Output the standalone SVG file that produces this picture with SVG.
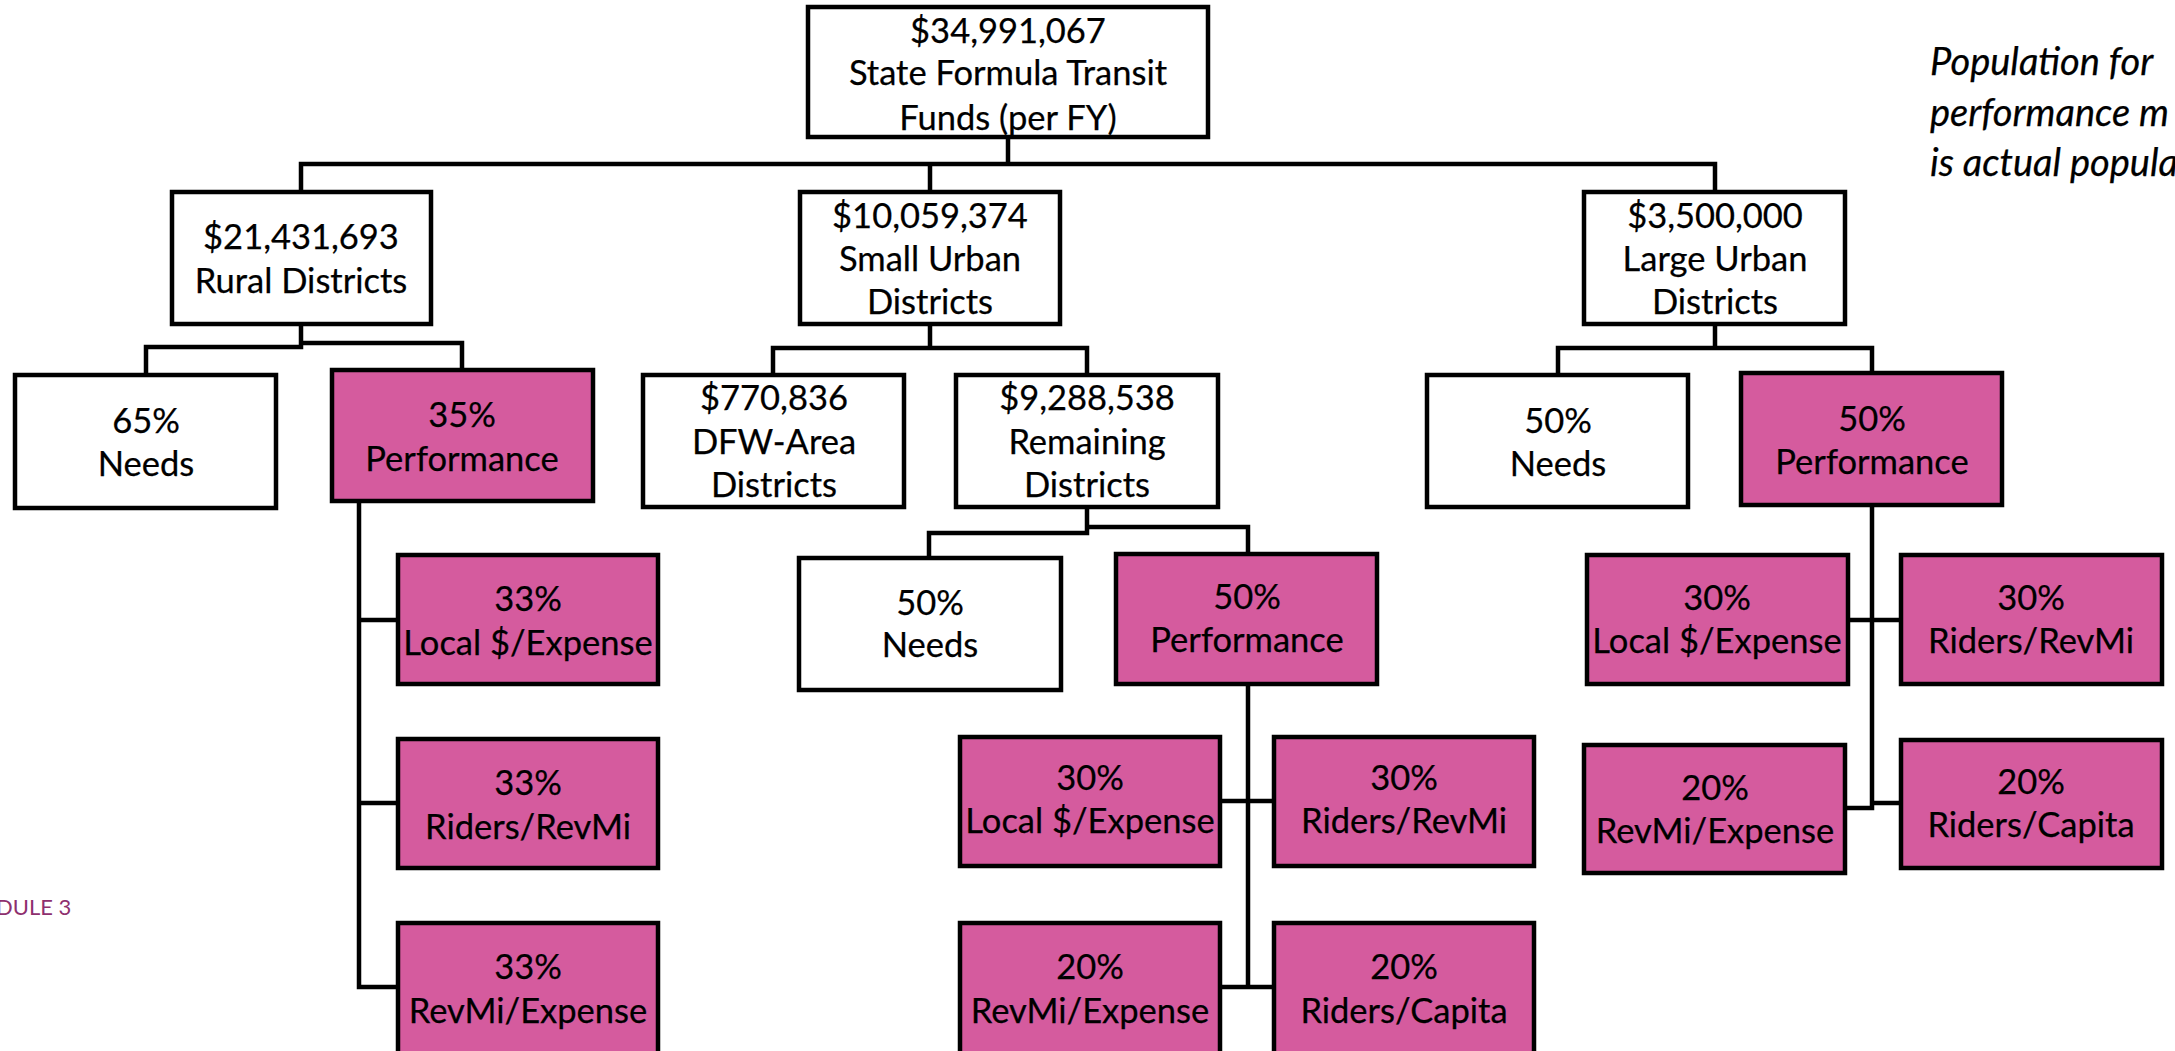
<svg xmlns="http://www.w3.org/2000/svg" width="2175" height="1051" viewBox="0 0 2175 1051">
<style>
.bw{fill:#ffffff;stroke:#000;stroke-width:4.5}
.bp{fill:#D55B9E;stroke:#000;stroke-width:4.5}
.t{font-family:Lato,"Open Sans","Liberation Sans",sans-serif;font-size:34.5px;fill:#000;stroke:#000;stroke-width:0.25;text-anchor:middle}
.c{fill:none;stroke:#000;stroke-width:4.5;stroke-linejoin:miter;stroke-linecap:square}
.note{font-family:Lato,"Open Sans","Liberation Sans",sans-serif;font-size:38px;font-style:italic;fill:#000;stroke:#000;stroke-width:0.25}
.mod{font-family:Lato,"Open Sans","Liberation Sans",sans-serif;font-size:22px;fill:#8E2F6E}
</style>
<rect width="2175" height="1051" fill="#ffffff"/>
<g id="connectors">
<path class="c" d="M1008 137V164M301 164H1715M301 164V192M930 164V192M1715 164V192"/>
<path class="c" d="M301 324V347H146V375M301 343H462V370"/>
<path class="c" d="M930 324V348M773 348H1087M773 348V375M1087 348V375"/>
<path class="c" d="M1715 324V348M1558 348H1872M1558 348V375M1872 348V373"/>
<path class="c" d="M1087 507V533H929V558M1087 527H1248V554"/>
<path class="c" d="M359 501V987H398M359 620H398M359 803H398"/>
<path class="c" d="M1248 684V987M1220 801H1274M1220 987H1274"/>
<path class="c" d="M1872 505V808H1845M1848 620H1901M1872 803H1901"/>
</g>
<g id="n-top"><rect class="bw" x="808" y="7" width="400" height="130"/>
<text class="t" x="1008" y="43">$34,991,067</text><text class="t" x="1008" y="85">State Formula Transit</text><text class="t" x="1008" y="130">Funds (per FY)</text></g>
<g id="n-rural"><rect class="bw" x="172" y="192" width="259" height="132"/>
<text class="t" x="301" y="249">$21,431,693</text><text class="t" x="301" y="293">Rural Districts</text></g>
<g id="n-small"><rect class="bw" x="800" y="192" width="260" height="132"/>
<text class="t" x="930" y="228">$10,059,374</text><text class="t" x="930" y="271">Small Urban</text><text class="t" x="930" y="314">Districts</text></g>
<g id="n-large"><rect class="bw" x="1584" y="192" width="261" height="132"/>
<text class="t" x="1715" y="228">$3,500,000</text><text class="t" x="1715" y="271">Large Urban</text><text class="t" x="1715" y="314">Districts</text></g>
<g id="n-rural-needs"><rect class="bw" x="15" y="375" width="261" height="133"/>
<text class="t" x="146" y="433">65%</text><text class="t" x="146" y="476">Needs</text></g>
<g id="n-rural-perf"><rect class="bp" x="332" y="370" width="261" height="131"/>
<text class="t" x="462" y="427">35%</text><text class="t" x="462" y="471">Performance</text></g>
<g id="n-dfw"><rect class="bw" x="643" y="375" width="261" height="132"/>
<text class="t" x="774" y="410">$770,836</text><text class="t" x="774" y="454">DFW-Area</text><text class="t" x="774" y="497">Districts</text></g>
<g id="n-remaining"><rect class="bw" x="956" y="375" width="262" height="132"/>
<text class="t" x="1087" y="410">$9,288,538</text><text class="t" x="1087" y="454">Remaining</text><text class="t" x="1087" y="497">Districts</text></g>
<g id="n-large-needs"><rect class="bw" x="1427" y="375" width="261" height="132"/>
<text class="t" x="1558" y="433">50%</text><text class="t" x="1558" y="476">Needs</text></g>
<g id="n-large-perf"><rect class="bp" x="1741" y="373" width="261" height="132"/>
<text class="t" x="1872" y="431">50%</text><text class="t" x="1872" y="474">Performance</text></g>
<g id="n-small-needs"><rect class="bw" x="799" y="558" width="262" height="132"/>
<text class="t" x="930" y="615">50%</text><text class="t" x="930" y="657">Needs</text></g>
<g id="n-small-perf"><rect class="bp" x="1116" y="554" width="261" height="130"/>
<text class="t" x="1247" y="609">50%</text><text class="t" x="1247" y="652">Performance</text></g>
<g id="n-r1"><rect class="bp" x="398" y="555" width="260" height="129"/>
<text class="t" x="528" y="611">33%</text><text class="t" x="528" y="655">Local $/Expense</text></g>
<g id="n-r2"><rect class="bp" x="398" y="739" width="260" height="129"/>
<text class="t" x="528" y="795">33%</text><text class="t" x="528" y="839">Riders/RevMi</text></g>
<g id="n-r3"><rect class="bp" x="398" y="923" width="260" height="132"/>
<text class="t" x="528" y="979">33%</text><text class="t" x="528" y="1023">RevMi/Expense</text></g>
<g id="n-s1"><rect class="bp" x="960" y="737" width="260" height="129"/>
<text class="t" x="1090" y="790">30%</text><text class="t" x="1090" y="833">Local $/Expense</text></g>
<g id="n-s2"><rect class="bp" x="1274" y="737" width="260" height="129"/>
<text class="t" x="1404" y="790">30%</text><text class="t" x="1404" y="833">Riders/RevMi</text></g>
<g id="n-s3"><rect class="bp" x="960" y="923" width="260" height="132"/>
<text class="t" x="1090" y="979">20%</text><text class="t" x="1090" y="1023">RevMi/Expense</text></g>
<g id="n-s4"><rect class="bp" x="1274" y="923" width="260" height="132"/>
<text class="t" x="1404" y="979">20%</text><text class="t" x="1404" y="1023">Riders/Capita</text></g>
<g id="n-l1"><rect class="bp" x="1587" y="555" width="261" height="129"/>
<text class="t" x="1717" y="610">30%</text><text class="t" x="1717" y="653">Local $/Expense</text></g>
<g id="n-l2"><rect class="bp" x="1901" y="555" width="261" height="129"/>
<text class="t" x="2031" y="610">30%</text><text class="t" x="2031" y="653">Riders/RevMi</text></g>
<g id="n-l3"><rect class="bp" x="1584" y="745" width="261" height="128"/>
<text class="t" x="1715" y="800">20%</text><text class="t" x="1715" y="843">RevMi/Expense</text></g>
<g id="n-l4"><rect class="bp" x="1901" y="740" width="261" height="128"/>
<text class="t" x="2031" y="794">20%</text><text class="t" x="2031" y="837">Riders/Capita</text></g>
<g id="note">
<text class="note" x="1930" y="75">Population for</text>
<text class="note" x="1930" y="126">performance m</text>
<text class="note" x="1930" y="176">is actual popula</text>
</g>
<text class="mod" x="-4" y="915">DULE 3</text>
</svg>
